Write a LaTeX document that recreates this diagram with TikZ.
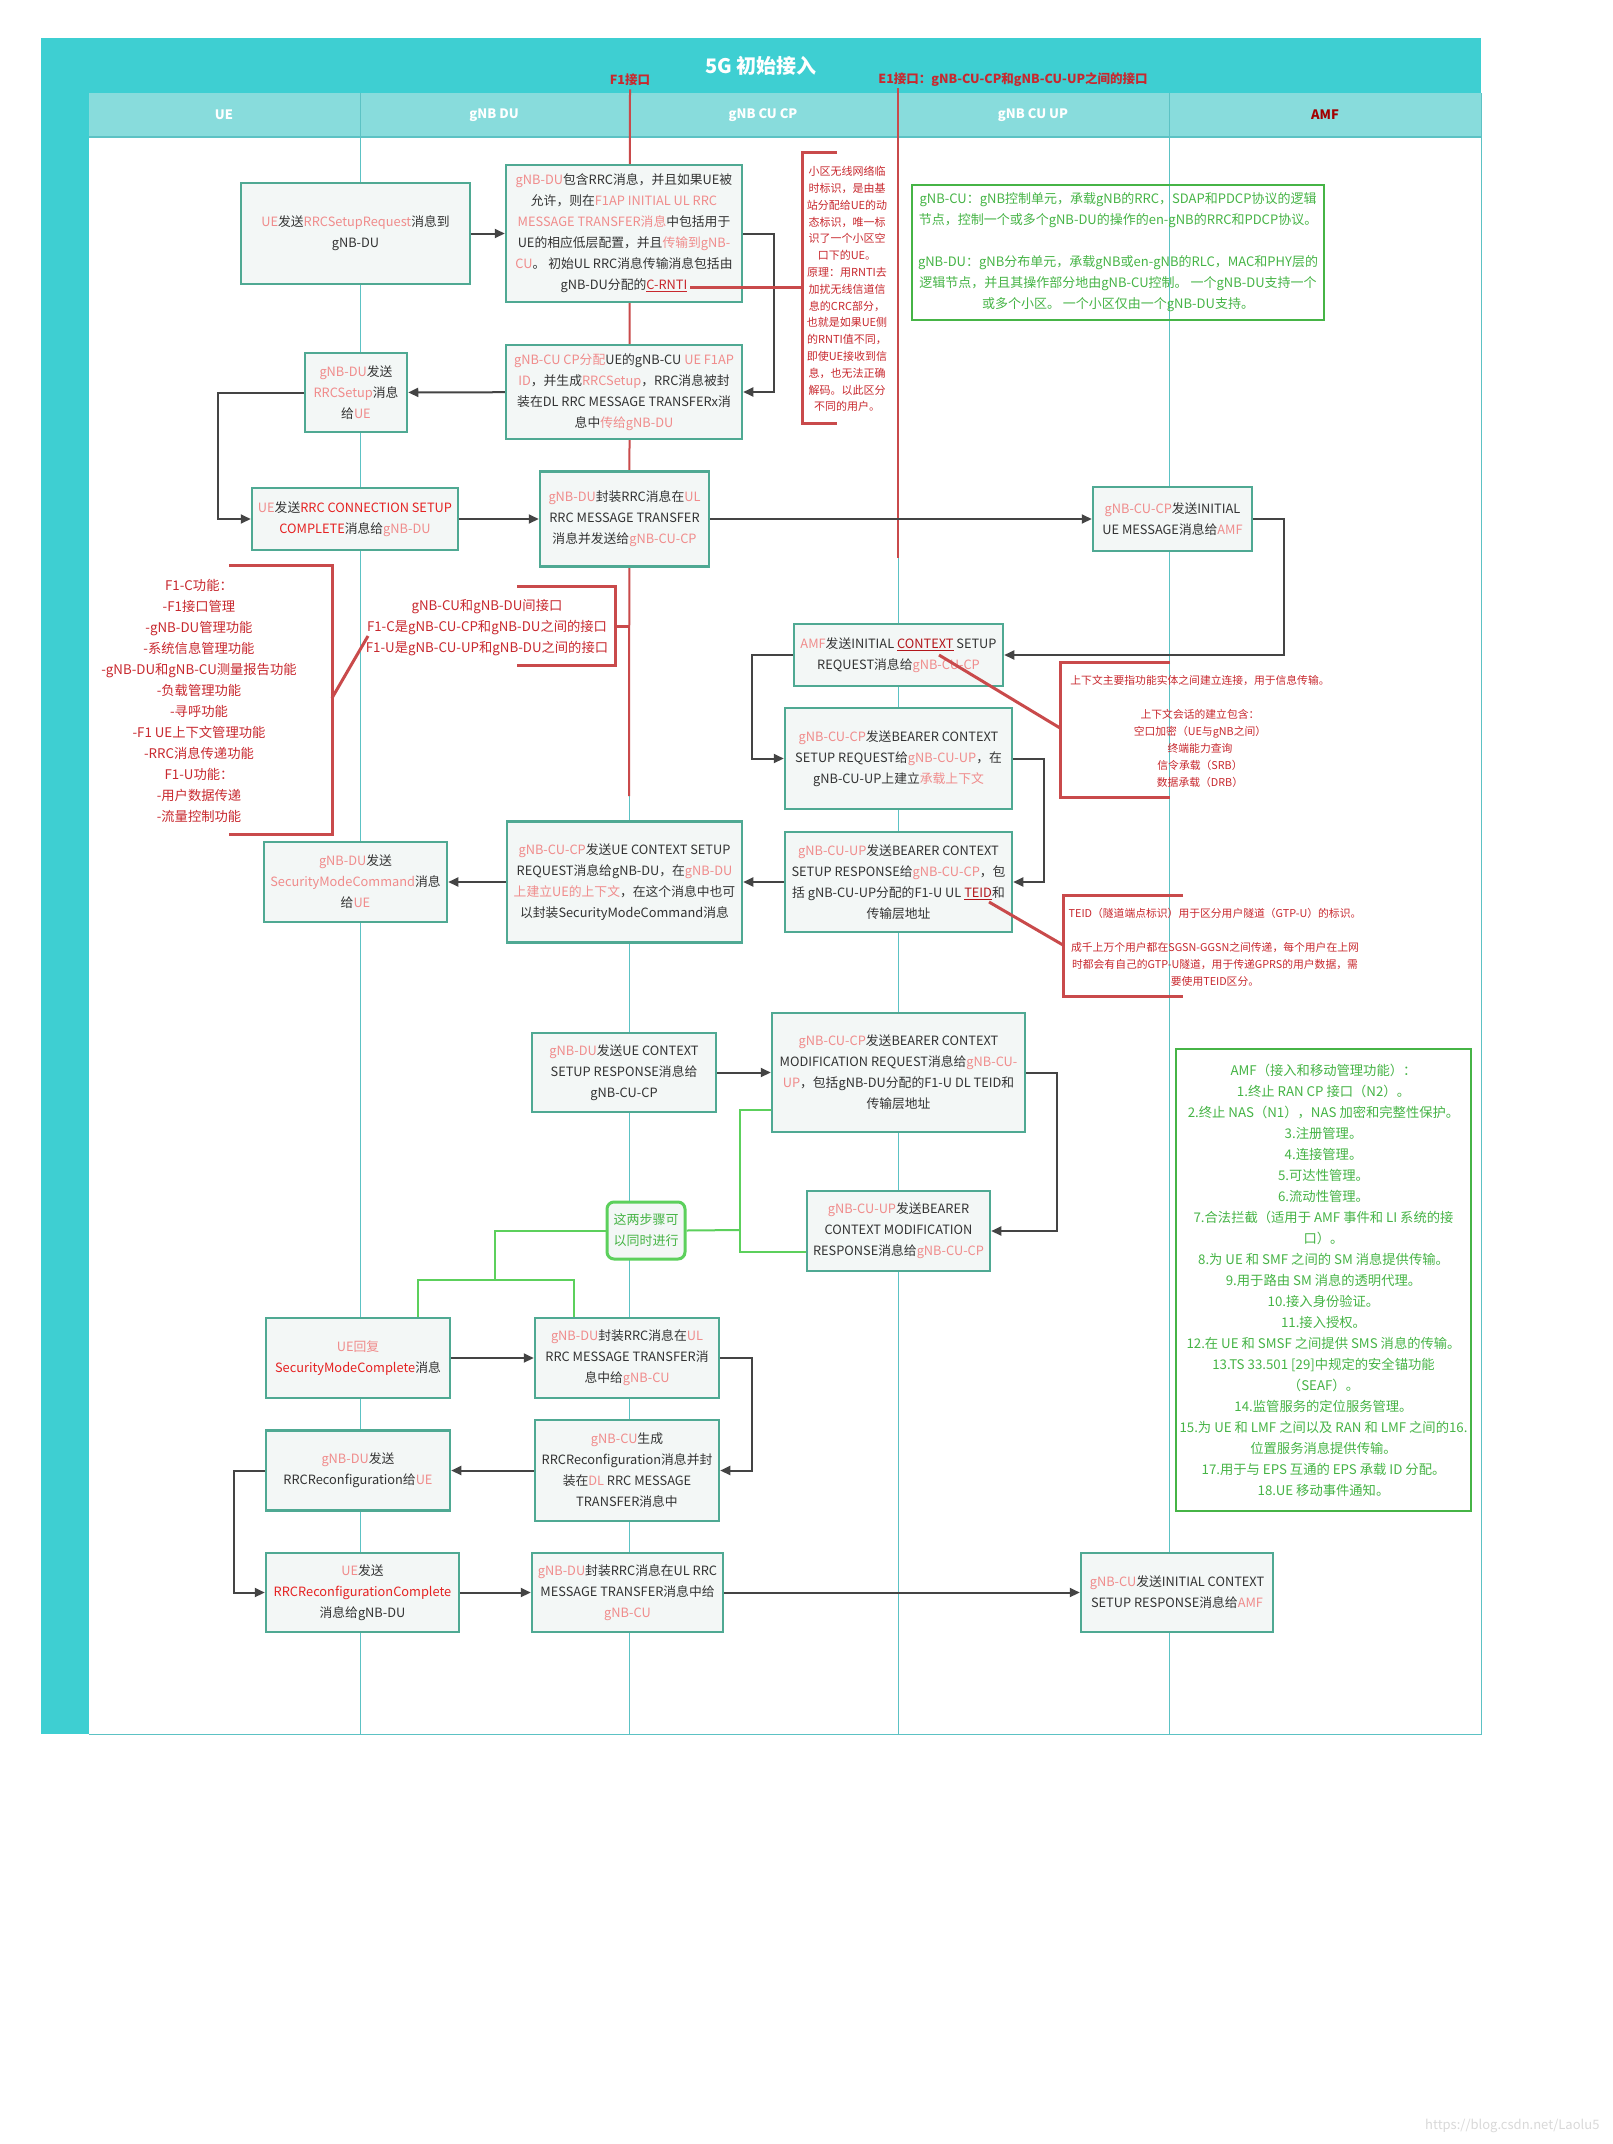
\documentclass[tikz,border=0pt]{standalone}
\usepackage{fontspec}
\setmainfont{Noto Sans CJK SC}
\usepackage{tikz}
\usetikzlibrary{arrows.meta, calc}
\definecolor{mTeal}{HTML}{3ECFD2}
\definecolor{mTealLight}{HTML}{88DCDC}
\definecolor{mLane}{HTML}{5CC2C4}
\definecolor{mBox}{HTML}{4FA993}
\definecolor{mBoxFill}{HTML}{F3F7F6}
\definecolor{mText}{HTML}{333333}
\definecolor{mPink}{HTML}{F08C8C}
\definecolor{mRed}{HTML}{E52222}
\definecolor{mDarkRed}{HTML}{B3161B}
\definecolor{mAmf}{HTML}{A30000}
\definecolor{mNote}{HTML}{C8282E}
\definecolor{mBracket}{HTML}{C94A4B}
\definecolor{mGreen}{HTML}{46B446}
\definecolor{mSync}{HTML}{5CD05C}
\definecolor{mArrow}{HTML}{444444}
\newcommand{\pinkt}[1]{\textcolor{mPink}{#1}}
\newcommand{\redt}[1]{\textcolor{mRed}{#1}}

\begin{document}
\begin{tikzpicture}[x=1pt, y=-1pt,
    box/.style={draw=mBox, line width=2.5pt, fill=mBoxFill, text=mText, align=center, inner sep=1pt, font=\fontsize{12.8}{21}\selectfont},
    gbox/.style={draw=mGreen, line width=2pt, text=mGreen, align=center, font=\fontsize{13}{21}\selectfont},
    note/.style={text=mNote, align=center, font=\fontsize{10.8}{17}\selectfont},
    ftxt/.style={text=mNote, align=center, font=\fontsize{13.3}{21}\selectfont},
    hdr/.style={text=white, font=\fontsize{13}{15}\selectfont\bfseries},
    iflabel/.style={text=mNote, font=\fontsize{12.5}{15}\selectfont\bfseries},
    flow/.style={draw=mArrow, line width=2pt, -{Triangle[length=10pt, width=9pt]}},
    sync/.style={draw=mSync, line width=2pt},
    brk/.style={draw=mBracket, line width=3pt},
    ifline/.style={draw=mBracket, line width=2pt},
    lane/.style={draw=mLane, line width=1pt}]
    \useasboundingbox (0,0) rectangle (1612,2144);
    \fill[white] (0,0) rectangle (1612,2144);

    \fill[mTeal] (41,38) rectangle (1481,93);
    \fill[mTeal] (41,93) rectangle (89,1734);
    \fill[mTealLight] (89,93) rectangle (1481,137);
    \draw[lane] (360,93) -- (360,1734); \draw[lane] (629,93) -- (629,1734);
    \draw[lane] (898,93) -- (898,1734); \draw[lane] (1169,93) -- (1169,1734);
    \draw[lane] (1481,93) -- (1481,1734) -- (89,1734);
    \draw[lane, line width=1.5pt] (89,137) -- (1481,137);

    \node[text=white, font=\fontsize{20}{24}\selectfont\bfseries] (title) at (761,66) {5G 初始接入};
    \node[hdr] (hue) at (224,115) {UE};
    \node[hdr] (hdu) at (494,115) {gNB DU};
    \node[hdr] (hcp) at (763,115) {gNB CU CP};
    \node[hdr] (hup) at (1033,115) {gNB CU UP};
    \node[hdr, text=mAmf] (hamf) at (1325,115) {AMF};
    \node[iflabel] (f1lbl) at (630,80) {F1接口};
    \node[iflabel] (e1lbl) at (1013,80) {E1接口：gNB-CU-CP和gNB-CU-UP之间的接口};
    \draw[ifline] (f1lbl.south) -- (629,796);
    \draw[ifline] (898,88) -- (898,558);

    \node[box, minimum width=229, minimum height=101] (ue1) at (355.5,233.5) {\pinkt{UE}发送\pinkt{RRCSetupRequest}消息到\\gNB-DU};
    \node[box, minimum width=236, minimum height=137] (du1) at (624,233.5) {\pinkt{gNB-DU}包含RRC消息，并且如果UE被\\允许，则在\pinkt{F1AP INITIAL UL RRC}\\\pinkt{MESSAGE TRANSFER消息}中包括用于\\UE的相应低层配置，并且\pinkt{传输到gNB-}\\\pinkt{CU}。 初始UL RRC消息传输消息包括由\\gNB-DU分配的\textcolor{mNote}{\underline{C-RNTI}}};
    \node[box, minimum width=236, minimum height=94] (cp1) at (624,392) {\pinkt{gNB-CU CP分配}UE的gNB-CU \pinkt{UE F1AP}\\\pinkt{ID}，并生成\pinkt{RRCSetup}，RRC消息被封\\装在DL RRC MESSAGE TRANSFERx消\\息中\pinkt{传给gNB-DU}};
    \node[box, minimum width=102, minimum height=79] (du2) at (356,392.5) {\pinkt{gNB-DU}发送\\\pinkt{RRCSetup}消息\\给\pinkt{UE}};
    \node[box, minimum width=206, minimum height=62] (ue2) at (355,519) {\pinkt{UE}发送\redt{RRC CONNECTION SETUP}\\\redt{COMPLETE}消息给\pinkt{gNB-DU}};
    \node[box, minimum width=169, minimum height=95] (du3) at (624.5,519) {\pinkt{gNB-DU}封装RRC消息在\pinkt{UL}\\RRC MESSAGE TRANSFER\\消息并发送给\pinkt{gNB-CU-CP}};
    \node[box, minimum width=159, minimum height=64] (cp2) at (1172.5,519) {\pinkt{gNB-CU-CP}发送INITIAL\\UE MESSAGE消息给\pinkt{AMF}};
    \node[box, minimum width=209, minimum height=62] (amf1) at (898.5,655) {\pinkt{AMF}发送INITIAL \textcolor{mDarkRed}{\underline{CONTEXT}} SETUP\\REQUEST消息给\pinkt{gNB-CU-CP}};
    \node[box, minimum width=227, minimum height=101] (cp3) at (898.5,758.5) {\pinkt{gNB-CU-CP}发送BEARER CONTEXT\\SETUP REQUEST给\pinkt{gNB-CU-UP}，在\\gNB-CU-UP上建立\pinkt{承载上下文}};
    \node[box, minimum width=227, minimum height=100] (up1) at (898.5,882) {\pinkt{gNB-CU-UP}发送BEARER CONTEXT\\SETUP RESPONSE给\pinkt{gNB-CU-CP}，包\\括 gNB-CU-UP分配的F1-U UL \textcolor{mDarkRed}{\underline{TEID}}和\\传输层地址};
    \node[box, minimum width=235, minimum height=121] (cp4) at (624.5,882) {\pinkt{gNB-CU-CP}发送UE CONTEXT SETUP\\REQUEST消息给gNB-DU，在\pinkt{gNB-DU}\\\pinkt{上建立UE的上下文}，在这个消息中也可\\以封装SecurityModeCommand消息};
    \node[box, minimum width=183, minimum height=80] (du4) at (355.5,882) {\pinkt{gNB-DU}发送\\\pinkt{SecurityModeCommand}消息\\给\pinkt{UE}};
    \node[box, minimum width=184, minimum height=79] (du5) at (624,1072.5) {\pinkt{gNB-DU}发送UE CONTEXT\\SETUP RESPONSE消息给\\gNB-CU-CP};
    \node[box, minimum width=253, minimum height=119] (cp5) at (898.5,1072.5) {\pinkt{gNB-CU-CP}发送BEARER CONTEXT\\MODIFICATION REQUEST消息给\pinkt{gNB-CU-}\\\pinkt{UP}，包括gNB-DU分配的F1-U DL TEID和\\传输层地址};
    \node[box, minimum width=183, minimum height=80] (up2) at (898.5,1231) {\pinkt{gNB-CU-UP}发送BEARER\\CONTEXT MODIFICATION\\RESPONSE消息给\pinkt{gNB-CU-CP}};
    \node[gbox, fill=mBoxFill, draw=mSync, line width=3pt, rounded corners=7pt, minimum width=78, minimum height=57] (par) at (646,1230.5) {这两步骤可\\以同时进行};
    \node[box, minimum width=184, minimum height=80] (ue3) at (358,1358) {\pinkt{UE回复}\\\redt{SecurityModeComplete}消息};
    \node[box, minimum width=184, minimum height=80] (du6) at (627,1358) {\pinkt{gNB-DU}封装RRC消息在\pinkt{UL}\\RRC MESSAGE TRANSFER消\\息中给\pinkt{gNB-CU}};
    \node[box, minimum width=184, minimum height=101] (cp6) at (627,1470.5) {\pinkt{gNB-CU}生成\\RRCReconfiguration消息并封\\装在\pinkt{DL} RRC MESSAGE\\TRANSFER消息中};
    \node[box, minimum width=184, minimum height=80] (du7) at (358,1470.5) {\pinkt{gNB-DU}发送\\RRCReconfiguration给\pinkt{UE}};
    \node[box, minimum width=193, minimum height=79] (ue4) at (362.5,1592.5) {\pinkt{UE}发送\\\redt{RRCReconfigurationComplete}\\消息给gNB-DU};
    \node[box, minimum width=191, minimum height=79] (du8) at (627.5,1592.5) {\pinkt{gNB-DU}封装RRC消息在UL RRC\\MESSAGE TRANSFER消息中给\\\pinkt{gNB-CU}};
    \node[box, minimum width=192, minimum height=79] (cp7) at (1177,1592.5) {\pinkt{gNB-CU}发送INITIAL CONTEXT\\SETUP RESPONSE消息给\pinkt{AMF}};

    \draw[flow] (ue1) -- (du1);
    \draw[flow] (du1.east) -- ++(31,0) |- (cp1.east);
    \draw[flow] (cp1) -- (du2);
    \draw[flow] (du2.west) -- ++(-86,0) |- (ue2.west);
    \draw[flow] (ue2) -- (du3);
    \draw[flow] (du3) -- (cp2);
    \draw[flow] (cp2.east) -- ++(31,0) |- (amf1.east);
    \draw[flow] (amf1.west) -- ++(-41,0) |- (cp3.west);
    \draw[flow] (cp3.east) -- ++(31,0) |- (up1.east);
    \draw[flow] (up1) -- (cp4);
    \draw[flow] (cp4) -- (du4);
    \draw[flow] (du5) -- (cp5);
    \draw[flow] (cp5.east) -- ++(31,0) |- (up2.east);
    \draw[flow] (ue3) -- (du6);
    \draw[flow] (du6.east) -- ++(32,0) |- (cp6.east);
    \draw[flow] (cp6) -- (du7);
    \draw[flow] (du7.west) -- ++(-31,0) |- (ue4.west);
    \draw[flow] (ue4) -- (du8);
    \draw[flow] (du8) -- (cp7);

    \coordinate (g1) at (740,1230); \coordinate (g2) at (740,1110); \coordinate (g3) at (740,1252);
    \coordinate (g4) at (495,1280); \coordinate (g5) at (418,1280); \coordinate (g6) at (574,1280);
    \draw[sync] (par.east) -- (g1);
    \draw[sync] (cp5.west |- g2) -- (g2) -- (g3) -- (up2.west |- g3);
    \draw[sync] (par.west) -| (g4);
    \draw[sync] (g5 |- ue3.north) -- (g5) -- (g6) -- (g6 |- du6.north);

    \node[gbox, minimum width=412, minimum height=135] (cudu) at (1118,252.5) {gNB-CU：gNB控制单元，承载gNB的RRC，SDAP和PDCP协议的逻辑\\节点，控制一个或多个gNB-DU的操作的en-gNB的RRC和PDCP协议。\\[21pt]gNB-DU：gNB分布单元，承载gNB或en-gNB的RLC，MAC和PHY层的\\逻辑节点，并且其操作部分地由gNB-CU控制。 一个gNB-DU支持一个\\或多个小区。 一个小区仅由一个gNB-DU支持。};
    \node[gbox, minimum width=295, minimum height=462, font=\fontsize{13.3}{21}\selectfont] (amfnote) at (1323.5,1280) {AMF（接入和移动管理功能）：\\1.终止 RAN CP 接口（N2）。\\2.终止 NAS（N1），NAS 加密和完整性保护。\\3.注册管理。\\4.连接管理。\\5.可达性管理。\\6.流动性管理。\\7.合法拦截（适用于 AMF 事件和 LI 系统的接\\口）。\\8.为 UE 和 SMF 之间的 SM 消息提供传输。\\9.用于路由 SM 消息的透明代理。\\10.接入身份验证。\\11.接入授权。\\12.在 UE 和 SMSF 之间提供 SMS 消息的传输。\\13.TS 33.501 [29]中规定的安全锚功能\\（SEAF）。\\14.监管服务的定位服务管理。\\15.为 UE 和 LMF 之间以及 RAN 和 LMF 之间的16.\\位置服务消息提供传输。\\17.用于与 EPS 互通的 EPS 承载 ID 分配。\\18.UE 移动事件通知。};

    \node[note, font=\fontsize{11}{16.8}\selectfont] (rntinote) at (847,289) {小区无线网络临\\时标识，是由基\\站分配给UE的动\\态标识，唯一标\\识了一个小区空\\口下的UE。\\原理：用RNTI去\\加扰无线信道信\\息的CRC部分，\\也就是如果UE侧\\的RNTI值不同，\\即使UE接收到信\\息，也无法正确\\解码。以此区分\\不同的用户。};
    \node[note] (ctxnote) at (1200,731) {上下文主要指功能实体之间建立连接，用于信息传输。\\[17pt]上下文会话的建立包含：\\空口加密（UE与gNB之间）\\终端能力查询\\信令承载（SRB）\\数据承载（DRB）};
    \node[note] (teidnote) at (1215,947.5) {TEID（隧道端点标识）用于区分用户隧道（GTP-U）的标识。\\[17pt]成千上万个用户都在SGSN-GGSN之间传递，每个用户在上网\\时都会有自己的GTP-U隧道，用于传递GPRS的用户数据，需\\要使用TEID区分。};
    \node[ftxt] (f1func) at (199,700.5) {F1-C功能：\\-F1接口管理\\-gNB-DU管理功能\\-系统信息管理功能\\-gNB-DU和gNB-CU测量报告功能\\-负载管理功能\\-寻呼功能\\-F1 UE上下文管理功能\\-RRC消息传递功能\\F1-U功能：\\-用户数据传递\\-流量控制功能};
    \node[ftxt] (f1if) at (487,628) {gNB-CU和gNB-DU间接口\\F1-C是gNB-CU-CP和gNB-DU之间的接口\\F1-U是gNB-CU-UP和gNB-DU之间的接口};

    \coordinate (rnti) at (690,287); \coordinate (rntiB) at (802,287);
    \coordinate (ctx) at (939,655); \coordinate (ctxB) at (1060,728);
    \coordinate (teid) at (989,902); \coordinate (teidB) at (1063,945);
    \coordinate (f1B) at (332,698); \coordinate (f1end) at (368,636);
    \draw[brk] (837,152) -- (802,152) -- (802,423) -- (837,423); \draw[brk] (rnti) -- (rntiB);
    \draw[brk] (1170,662) -- (1060,662) -- (1060,797) -- (1170,797); \draw[brk] (ctx) -- (ctxB);
    \draw[brk] (1183,895) -- (1063,895) -- (1063,996) -- (1183,996); \draw[brk] (teid) -- (teidB);
    \draw[brk] (229,565) -- (332,565) -- (332,834) -- (229,834); \draw[brk] (f1B) -- (f1end);
    \draw[brk] (517,586) -- (615,586) -- (615,665) -- (517,665); \draw[brk] (615,626) -- (629,626);

    \node[anchor=east, text=black!15, font=\fontsize{13}{15}\selectfont] (wm) at (1603,2126) {https://blog.csdn.net/Laolu5};
\end{tikzpicture}
\end{document}
